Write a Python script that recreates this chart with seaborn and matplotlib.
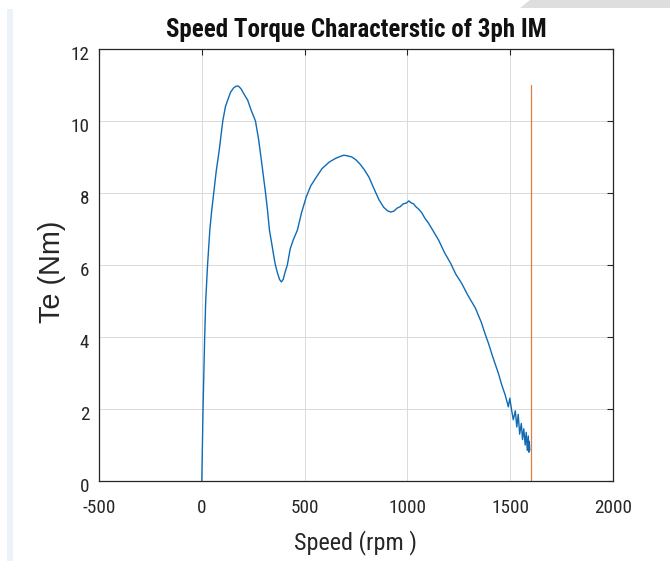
import numpy as np
import pandas as pd
import matplotlib
matplotlib.use("Agg")
import matplotlib.pyplot as plt
import matplotlib.transforms as mtransforms
from matplotlib.patches import Rectangle, Polygon
import seaborn as sns

# ---- data ----
speed_rpm = [0, 3, 6, 10, 14, 19, 28, 39, 48, 58, 70, 85, 102, 115, 126, 140, 155, 168,
             178, 190, 205, 223, 240, 261, 276, 290, 300, 310, 320, 329, 340, 350, 358, 368,
             378, 387, 396, 405, 416, 430, 445, 465, 485, 508, 530, 557, 585, 620, 650, 675,
             692, 710, 730, 750, 770, 790, 813, 835, 862, 885, 905, 920, 935, 950, 965, 980,
             995, 1007, 1020, 1030, 1041, 1055, 1070, 1085, 1104, 1125, 1152, 1180, 1210,
             1235, 1263, 1295, 1331, 1360, 1380, 1394, 1415, 1442, 1460, 1475, 1491, 1498,
             1506, 1515, 1525, 1532, 1539, 1546, 1554, 1560, 1566, 1573, 1578, 1583, 1588,
             1591, 1593, 1595]
torque_nm = [0, 1.0, 2.0, 3.0, 4.0, 5.0, 6.0, 6.97, 7.5, 8.0, 8.6, 9.2, 10.0, 10.4,
             10.58, 10.8, 10.92, 10.97, 10.97, 10.9, 10.75, 10.58, 10.3, 10.0, 9.5, 8.9, 8.45,
             8.0, 7.5, 6.97, 6.6, 6.25, 6.0, 5.78, 5.6, 5.53, 5.6, 5.8, 6.0, 6.45, 6.7, 6.97,
             7.45, 7.89, 8.2, 8.44, 8.68, 8.86, 8.96, 9.02, 9.05, 9.03, 9.0, 8.92, 8.8, 8.65,
             8.44, 8.15, 7.81, 7.6, 7.5, 7.47, 7.5, 7.58, 7.62, 7.7, 7.72, 7.78, 7.72, 7.7,
             7.62, 7.55, 7.45, 7.3, 7.15, 6.95, 6.69, 6.35, 6.05, 5.75, 5.5, 5.15, 4.8, 4.4,
             4.05, 3.83, 3.45, 3.0, 2.65, 2.4, 2.06, 2.3, 2.0, 1.7, 1.95, 1.5, 1.85, 1.3, 1.6,
             1.15, 1.45, 1.0, 1.35, 0.85, 1.25, 0.8, 1.1, 0.85]
sync_speed = [1600, 1600]
sync_line = [0, 11]

x_ticks = [-500, 0, 500, 1000, 1500, 2000]
y_ticks = [0, 2, 4, 6, 8, 10, 12]
title_text = "Speed Torque Characterstic of 3ph IM"
x_label = "Speed (rpm )"
y_label = "Te (Nm)"

# ---- style ----
sns.set_theme(style="white")
cond = ["Roboto Condensed", "Liberation Sans", "DejaVu Sans"]
plt.rcParams["font.family"] = cond

W, H = 670, 561
fig = plt.figure(figsize=(W / 100, H / 100), dpi=100)
fig.patch.set_facecolor("white")
ax = fig.add_axes([99 / W, 1 - 481 / H, (613 - 99) / W, (481 - 49) / H])

df_curve = pd.DataFrame({"speed": speed_rpm, "Te": torque_nm})
df_sync = pd.DataFrame({"speed": sync_speed, "Te": sync_line})
sns.lineplot(data=df_curve, x="speed", y="Te", sort=False, estimator=None,
             color="#0F6BB5", linewidth=1.0, ax=ax)
sns.lineplot(data=df_sync, x="speed", y="Te", sort=False, estimator=None,
             color="#DC7D42", linewidth=0.9, ax=ax)

ax.set_xlim(x_ticks[0], x_ticks[-1])
ax.set_ylim(y_ticks[0], y_ticks[-1])
ax.set_xticks(x_ticks)
ax.set_yticks(y_ticks)
ax.set_xticklabels([str(v) for v in x_ticks])
ax.set_yticklabels([str(v) for v in y_ticks])
ax.grid(True, color="#dadada", linewidth=0.7)
ax.set_axisbelow(True)
for s in ax.spines.values():
    s.set_visible(True)
    s.set_color("#262626")
    s.set_linewidth(0.9)
ax.tick_params(direction="in", length=4, width=0.8, color="#262626",
               top=True, right=True, labelsize=15, labelcolor="#262626")
ax.tick_params(axis="x", pad=13)
ax.tick_params(axis="y", pad=7)

ttl = ax.set_title(title_text, fontsize=19, fontweight="bold", color="#111111", pad=8.6)
xl = ax.set_xlabel(x_label, fontsize=18, color="#262626")
ax.xaxis.set_label_coords(0.5, -0.113)
yl = ax.set_ylabel(y_label, fontsize=19, color="#262626",
                   family=["Liberation Sans", "DejaVu Sans"])
ax.yaxis.label.set_va("center")
ax.yaxis.set_label_coords(-0.0914, 0.485)

# fit text sizes to the widths measured on the reference
fig.canvas.draw()
r = fig.canvas.get_renderer()
def fit(t, target, horizontal=True):
    bb = t.get_window_extent(r)
    cur = bb.width if horizontal else bb.height
    t.set_fontsize(t.get_fontsize() * target / cur)
fit(ttl, 381)
fit(xl, 123)
fit(yl, 103, horizontal=False)
xt = ax.get_xticklabels()
bb = xt[3].get_window_extent(r)
ts = 15 * 37.7 / bb.width
ax.tick_params(labelsize=ts)
off = mtransforms.ScaledTranslation(0, -4 / 100, fig.dpi_scale_trans)
for lab in ax.get_yticklabels():
    lab.set_transform(lab.get_transform() + off)

# screenshot artefacts around the figure
fig.patches.append(Rectangle((7 / W, 0), 6 / W, 1 - 9 / H, transform=fig.transFigure,
                             facecolor="#edf2fa", edgecolor="none", zorder=-1))
fig.patches.append(Polygon([(530 / W, 1), (1, 1), (1, 1 - 8 / H), (520 / W, 1 - 8 / H)],
                           closed=True, transform=fig.transFigure,
                           facecolor="#dedede", edgecolor="none", zorder=-1))

fig.savefig("out.png", dpi=100)
